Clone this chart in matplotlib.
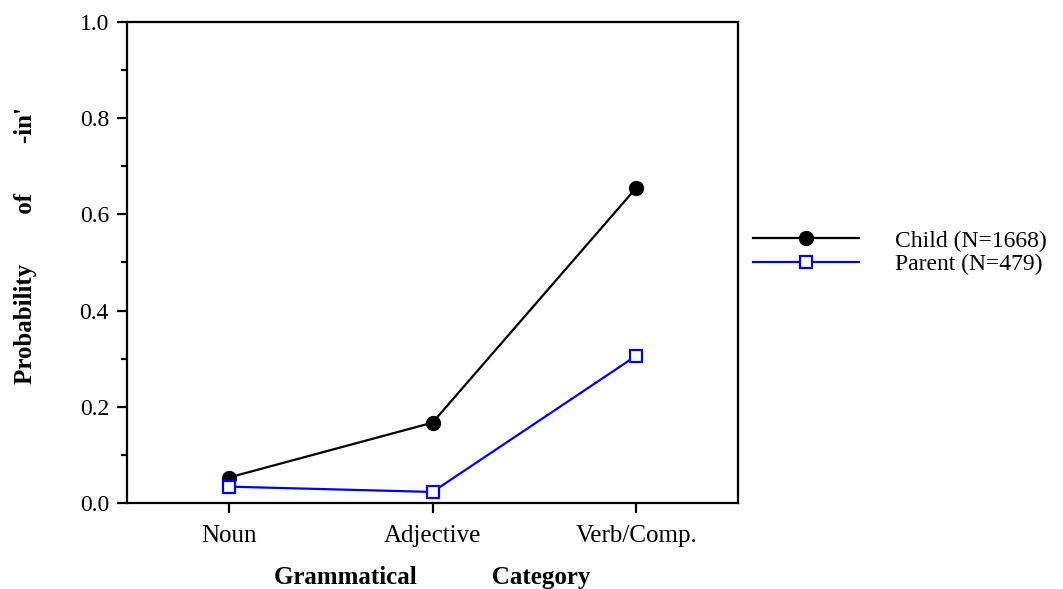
import matplotlib
matplotlib.use("Agg")
import matplotlib.pyplot as plt
from matplotlib.ticker import MultipleLocator

categories = ["Noun", "Adjective", "Verb/Comp."]
child = [0.053, 0.167, 0.655]
parent = [0.034, 0.023, 0.306]
child_label = "Child (N=1668)"
parent_label = "Parent (N=479)"

plt.rcParams['font.family'] = ['Liberation Serif', 'DejaVu Serif']

fig = plt.figure(figsize=(10.63, 5.89), dpi=100)
ax = fig.add_axes([127/1063, 1-503/589, (738-127)/1063, (503-22)/589])

x = [i + 0.5 for i in range(len(categories))]
ax.plot(x, child, color='black', lw=1.6, marker='o', ms=10, mfc='black', mec='black',
        label=child_label)
ax.plot(x, parent, color='#0000ff', lw=1.6, marker='s', ms=8.5, mfc='white', mec='#0000ff',
        mew=1.6, label=parent_label)

ax.set_xlim(0, 3)
ax.set_ylim(0, 1.0)
ax.set_xticks(x)
ax.set_xticklabels(categories, fontsize=18)
ax.yaxis.set_minor_locator(MultipleLocator(0.1))
ax.set_yticks([0, 0.2, 0.4, 0.6, 0.8, 1.0])
ax.set_yticklabels(["0.0", "0.2", "0.4", "0.6", "0.8", "1.0"], fontsize=17)
ax.tick_params(axis='both', which='major', length=7, width=1.6, direction='out')
ax.tick_params(axis='y', which='minor', length=4.5, width=1.6, direction='out')
ax.tick_params(axis='x', pad=9)
ax.tick_params(axis='y', pad=6)
for s in ax.spines.values():
    s.set_linewidth(1.6)

ax.set_xlabel("Grammatical            Category", fontsize=18, fontweight='bold')
ax.xaxis.set_label_coords(0.5, -0.13)
ax.set_ylabel("Probability        of        -in'", fontsize=18, fontweight='bold')
ax.yaxis.set_label_coords(-0.147, 0.535)

leg = ax.legend(loc='center left', bbox_to_anchor=(753/1063, 1-252.5/589),
                bbox_transform=fig.transFigure, frameon=False, fontsize=17,
                handlelength=4.5, handletextpad=1.5, labelspacing=0.07,
                borderaxespad=0, borderpad=0)

fig.savefig("out.png", dpi=100)
